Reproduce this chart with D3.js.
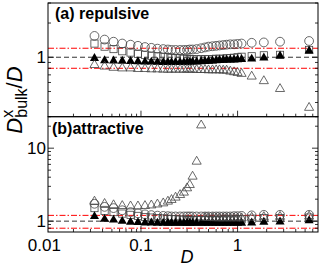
<!DOCTYPE html>
<html>
<head>
<meta charset="utf-8">
<script src="https://d3js.org/d3.v7.min.js"></script>
<style>
  body { margin: 0; background: #fff; }
  text { font-family: "Liberation Sans", Arial, sans-serif; }
</style>
</head>
<body>
<div id="chart"></div>
<script>
// D values (x axis)
var D = [0.033, 0.042, 0.052, 0.064, 0.078, 0.093, 0.11, 0.128, 0.148, 0.17,
         0.19, 0.207, 0.228, 0.254, 0.278, 0.30, 0.32, 0.342, 0.377, 0.42,
         0.46, 0.5, 0.55, 0.6, 0.65, 0.71, 0.77, 0.84, 0.92, 1.0,
         1.1, 1.4, 1.87, 2.75, 5.5];

// (a) repulsive
var repCircle = [1.54, 1.43, 1.37, 1.32, 1.29, 1.26, 1.23, 1.21, 1.19, 1.18,
                 1.17, 1.16, 1.16, 1.16, 1.16, 1.16, 1.17, 1.17, 1.18, 1.2,
                 1.22, 1.24, 1.25, 1.26, 1.27, 1.28, 1.29, 1.30, 1.30, 1.31,
                 1.32, 1.34, 1.35, 1.37, 1.39];
var repSquare = [1.32, 1.24, 1.18, 1.13, 1.10, 1.07, 1.05, 1.03, 1.02, 1.01,
                 1.0, 0.99, 0.98, 0.98, 0.97, 0.97, 0.96, 0.96, 0.96, 0.96,
                 0.96, 0.96, 0.96, 0.97, 0.97, 0.97, 0.98, 0.98, 0.99, 1.0,
                 1.01, 1.02, 1.04, 1.05, 1.16];
var repTriFill = [0.98, 0.935, 0.93, 0.925, 0.92, 0.915, 0.91, 0.91, 0.905, 0.9,
                  0.9, 0.9, 0.9, 0.9, 0.9, 0.9, 0.905, 0.91, 0.91, 0.915,
                  0.92, 0.925, 0.93, 0.935, 0.94, 0.945, 0.947, 0.95, 0.95, 0.955,
                  0.96, 0.966, 0.99, 1.03, 1.14];
var repTriOpen = [0.857, 0.83, 0.81, 0.80, 0.80, 0.79, 0.79, 0.785, 0.785, 0.78,
                  0.78, 0.78, 0.78, 0.78, 0.78, 0.78, 0.78, 0.78, 0.775, 0.775,
                  0.775, 0.77, 0.77, 0.77, 0.77, 0.765, 0.765, 0.75, 0.74, 0.73,
                  0.716, 0.678, 0.618, 0.527, 0.36];

// (b) attractive
var attCircle = [1.73, 1.57, 1.51, 1.41, 1.33, 1.28, 1.24, 1.21, 1.19, 1.18,
                 1.17, 1.16, 1.16, 1.16, 1.16, 1.16, 1.16, 1.16, 1.16, 1.16,
                 1.16, 1.16, 1.16, 1.16, 1.16, 1.16, 1.16, 1.16, 1.17, 1.17,
                 1.18, 1.2, 1.22, 1.22, 1.22];
var attSquare = [1.51, 1.38, 1.33, 1.27, 1.22, 1.18, 1.14, 1.12, 1.1, 1.09,
                 1.08, 1.07, 1.06, 1.05, 1.05, 1.04, 1.04, 1.04, 1.04, 1.04,
                 1.04, 1.04, 1.04, 1.04, 1.04, 1.05, 1.05, 1.05, 1.05, 1.06,
                 1.06, 1.08, 1.1, 1.1, 1.12];
var attTriFill = [1.16, 1.065, 1.04, 1.0, 0.97, 0.96, 0.95, 0.95, 0.94, 0.94,
                  0.94, 0.94, 0.94, 0.94, 0.94, 0.94, 0.94, 0.94, 0.94, 0.94,
                  0.94, 0.94, 0.94, 0.94, 0.94, 0.94, 0.94, 0.94, 0.94, 0.94,
                  0.94, 0.95, 0.97, 0.98, 1.02];
var attTriOpen = [1.86, 1.73, 1.66, 1.62, 1.6, 1.6, 1.62, 1.65, 1.7, 1.76,
                  1.86, 1.96, 2.11, 2.29, 2.47, 2.83, 3.14, 4.09, 6.56, 20.6,
                  1.12, 1.11, 1.11, 1.1, 1.1, 1.1, 1.1, 1.1, 1.1, 1.1,
                  1.1, 1.12, 1.14, 1.15, 1.16];

var refLines = [0.8, 1, 1.2];
var xTickLabels = [0.01, 0.1, 1];

var width = 322, height = 266;
var left = 48, right = 318;

var svg = d3.select("#chart").append("svg")
    .attr("width", width).attr("height", height);

var x = d3.scaleLog().domain([0.0109, 6.8]).range([left, right]);

var panels = [
  {name: "(a) repulsive", top: 3, bottom: 116.7, domain: [0.3, 3], labels: [1],
   circle: repCircle, square: repSquare, triFill: repTriFill, triOpen: repTriOpen,
   tx: 55, ty: 19},
  {name: "(b)attractive", top: 116.7, bottom: 232, domain: [0.71, 27], labels: [1, 10],
   circle: attCircle, square: attSquare, triFill: attTriFill, triOpen: attTriOpen,
   tx: 52, ty: 134}
];

var tri = d3.symbol().type(d3.symbolTriangle).size(36);

function logTicks(lo, hi) {
  var t = [];
  for (var e = -3; e <= 2; e++) {
    for (var m = 1; m < 10; m++) {
      var v = m * Math.pow(10, e);
      if (v >= lo * 0.999 && v <= hi * 1.001) t.push({v: v, major: m == 1});
    }
  }
  return t;
}

panels.forEach(function(p) {
  var y = d3.scaleLog().domain(p.domain).range([p.bottom, p.top]);
  var g = svg.append("g");

  // clip
  var cid = "clip" + Math.round(p.top);
  svg.append("clipPath").attr("id", cid).append("rect")
      .attr("x", left).attr("y", p.top).attr("width", right - left).attr("height", p.bottom - p.top);

  var plot = g.append("g").attr("clip-path", "url(#" + cid + ")");

  // reference lines
  plot.selectAll(".ref").data(refLines).enter().append("line")
      .attr("x1", left).attr("x2", right)
      .attr("y1", d => y(d)).attr("y2", d => y(d))
      .attr("stroke", d => d == 1 ? "#333" : "#ff0000")
      .attr("stroke-width", 1)
      .attr("stroke-dasharray", d => d == 1 ? "5,3" : "6,2,1.5,2");

  // circles
  plot.selectAll(".c").data(D).enter().append("circle")
      .attr("cx", d => x(d)).attr("cy", (d, i) => y(p.circle[i]))
      .attr("r", 4.4).attr("fill", "none").attr("stroke", "#444").attr("stroke-width", 0.8);
  // squares
  plot.selectAll(".s").data(D).enter().append("rect")
      .attr("x", d => x(d) - 3.6).attr("y", (d, i) => y(p.square[i]) - 3.6)
      .attr("width", 7.2).attr("height", 7.2)
      .attr("fill", "none").attr("stroke", "#444").attr("stroke-width", 0.8);
  // filled triangles
  plot.selectAll(".tf").data(D).enter().append("path")
      .attr("d", tri)
      .attr("transform", (d, i) => "translate(" + x(d) + "," + y(p.triFill[i]) + ")")
      .attr("fill", "#000");
  // open triangles
  plot.selectAll(".to").data(D).enter().append("path")
      .attr("d", tri)
      .attr("transform", (d, i) => "translate(" + x(d) + "," + y(p.triOpen[i]) + ")")
      .attr("fill", "none").attr("stroke", "#444").attr("stroke-width", 0.8);

  // frame
  g.append("rect").attr("x", left).attr("y", p.top)
      .attr("width", right - left).attr("height", p.bottom - p.top)
      .attr("fill", "none").attr("stroke", "#000").attr("stroke-width", 1);

  // y ticks, left and right
  var yt = logTicks(p.domain[0], p.domain[1]);
  g.selectAll(".yl").data(yt).enter().append("line")
      .attr("x1", left).attr("x2", d => left + (d.major ? 6 : 3))
      .attr("y1", d => y(d.v)).attr("y2", d => y(d.v))
      .attr("stroke", "#000").attr("stroke-width", 0.8);
  g.selectAll(".yr").data(yt).enter().append("line")
      .attr("x1", right).attr("x2", d => right - (d.major ? 6 : 3))
      .attr("y1", d => y(d.v)).attr("y2", d => y(d.v))
      .attr("stroke", "#000").attr("stroke-width", 0.8);

  g.selectAll(".ylab").data(p.labels).enter().append("text")
      .attr("x", left - 2).attr("y", d => y(d) + 6)
      .attr("text-anchor", "end").attr("font-size", 17)
      .text(d => d);

  // x ticks at the bottom
  var xt = logTicks(x.domain()[0], x.domain()[1]);
  g.selectAll(".xt").data(xt).enter().append("line")
      .attr("x1", d => x(d.v)).attr("x2", d => x(d.v))
      .attr("y1", p.bottom).attr("y2", d => p.bottom - (d.major ? 6 : 3))
      .attr("stroke", "#000").attr("stroke-width", 0.8);

  g.append("text").attr("x", p.tx).attr("y", p.ty)
      .attr("font-size", 16).attr("font-weight", "bold")
      .text(p.name);
});

// x tick labels
svg.selectAll(".xlab").data(xTickLabels).enter().append("text")
    .attr("x", d => x(d)).attr("y", 251)
    .attr("text-anchor", "middle").attr("font-size", 17)
    .text(d => d);

// axis titles
svg.append("text").attr("x", 187).attr("y", 263)
    .attr("text-anchor", "middle").attr("font-size", 18).attr("font-style", "italic")
    .text("D");

var yl = svg.append("text")
    .attr("transform", "translate(22,100) rotate(-90)")
    .attr("text-anchor", "middle").attr("font-size", 22);
yl.append("tspan").attr("font-style", "italic").text("D");
yl.append("tspan").attr("font-size", 16).attr("dy", -9).text("x");
yl.append("tspan").attr("font-size", 16).attr("dx", -8).attr("dy", 14).text("bulk");
yl.append("tspan").attr("dy", -5).text("/");
yl.append("tspan").attr("font-style", "italic").text("D");
</script>
</body>
</html>
